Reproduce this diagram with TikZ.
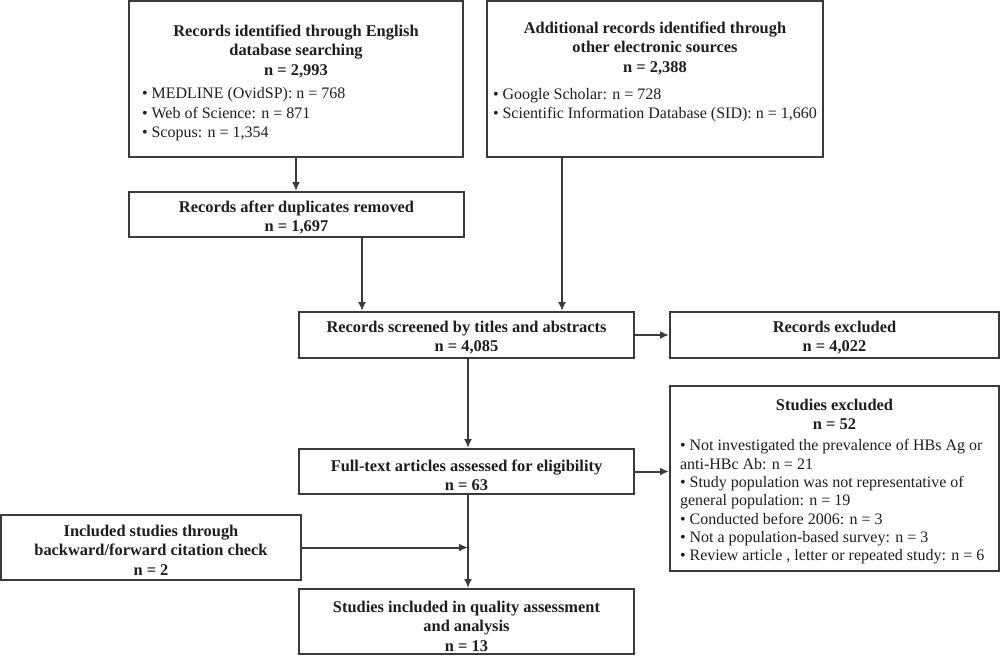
\documentclass[tikz,border=0pt]{standalone}
\usepackage{fontspec}
\setmainfont{Liberation Serif}
\usetikzlibrary{arrows.meta}
\definecolor{linec}{HTML}{3A3A3A}
\definecolor{txt}{HTML}{1E1E1E}
\tikzset{
  box/.style={draw=linec, line width=1pt, inner sep=0pt, text=txt, fill=white},
  arr/.style={draw=linec, line width=1pt, -{Latex[length=4.5pt,width=4pt]}},
}
\newcommand{\bxt}[3]{\parbox[c][#2][t]{#1}{\fontsize{8.2}{9.75}\selectfont #3}}
\newcommand{\reg}{\mdseries\fontsize{8}{9.75}\selectfont}
\begin{document}
\begin{tikzpicture}[x=0.5pt,y=-0.5pt]
\useasboundingbox[fill=white] (0,0) rectangle (1000,655);

\node[box] (B1) at (296,79) {\bxt{167pt}{78pt}{\centering\bfseries\rule{0pt}{17.5pt}Records identified through English\\database searching\\n = 2,993\par\vspace{2pt}\raggedright\reg\leftskip=6.5pt • MEDLINE (OvidSP): n = 768\\• Web of Science: n = 871\\• Scopus: n = 1,354\par}};

\node[box] (B2) at (655,79) {\bxt{168pt}{78pt}{\centering\bfseries\rule{0pt}{16pt}Additional records identified through\\other electronic sources\\n = 2,388\par\vspace{3.75pt}\raggedright\reg\leftskip=3pt • Google Scholar: n = 728\\• Scientific Information Database (SID): n = 1,660\par}};

\node[box] (B3) at (296.5,214.5) {\bxt{167.5pt}{22.5pt}{\centering\bfseries\rule{0pt}{10pt}Records after duplicates removed\\n = 1,697\par}};

\node[box] (B4) at (466.5,335) {\bxt{167.5pt}{23pt}{\centering\bfseries\rule{0pt}{10pt}Records screened by titles and abstracts\\n = 4,085\par}};

\node[box] (B5) at (834.5,335) {\bxt{164.5pt}{23pt}{\centering\bfseries\rule{0pt}{10pt}Records excluded\\n = 4,022\par}};

\node[box] (B6) at (834.5,478.5) {\bxt{164.5pt}{92.5pt}{\centering\bfseries\rule{0pt}{12pt}Studies excluded\\n = 52\par\vspace{1.5pt}\raggedright\mdseries\fontsize{8}{9.15}\selectfont\leftskip=5pt • Not investigated the prevalence of HBs Ag or\\anti-HBc Ab: n = 21\\• Study population was not representative of\\general population: n = 19\\• Conducted before 2006: n = 3\\• Not a population-based survey: n = 3\\• Review article , letter or repeated study: n = 6\par}};

\node[box] (B7) at (466.5,471.5) {\bxt{167.5pt}{22.5pt}{\centering\bfseries\rule{0pt}{11pt}Full-text articles assessed for eligibility\\n = 63\par}};

\node[box] (B8) at (151,547.5) {\bxt{150pt}{32.5pt}{\centering\bfseries\rule{0pt}{10.5pt}Included studies through\\backward/forward citation check\\n = 2\par}};

\node[box] (B9) at (466.5,621.5) {\bxt{167.5pt}{32.5pt}{\centering\bfseries\rule{0pt}{11.5pt}Studies included in quality assessment\\and analysis\\n = 13\par}};

\coordinate (c1) at (362,0);
\coordinate (c2) at (562,0);
\coordinate (c3) at (468,0);

\draw[arr] (B1.south) -- (B1.south |- B3.north);
\draw[arr] (B3.south -| c1) -- (B4.north -| c1);
\draw[arr] (B2.south -| c2) -- (B4.north -| c2);
\draw[arr] (B4.east) -- (B5.west);
\draw[arr] (B4.south -| c3) -- (B7.north -| c3);
\draw[arr] (B7.east) -- (B7.east -| B6.west);
\draw[arr] (B7.south -| c3) -- (B9.north -| c3);
\draw[arr] (B8.east) -- (B8.east -| c3);
\end{tikzpicture}
\end{document}
